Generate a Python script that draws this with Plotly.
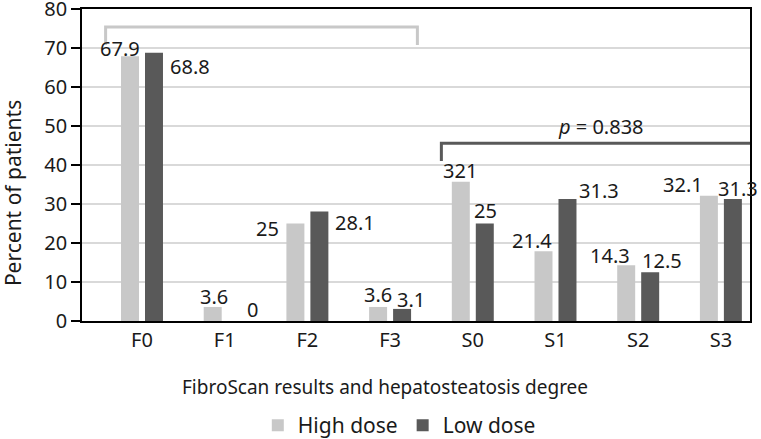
import plotly.graph_objects as go

categories = ["F0", "F1", "F2", "F3", "S0", "S1", "S2", "S3"]
high_dose = [67.9, 3.6, 25, 3.6, 35.7, 17.9, 14.3, 32.1]
low_dose = [68.8, 0, 28.1, 3.1, 25, 31.3, 12.5, 31.3]
high_labels = ["67.9", "3.6", "25", "3.6", "321", "21.4", "14.3", "32.1"]
low_labels = ["68.8", "0", "28.1", "3.1", "25", "31.3", "12.5", "31.3"]
p_text = "<i>p</i> = 0.838"

# label offsets (pixels) relative to group centre / bar top
high_dx = [-22, -11, -40, -12, -13, -23, -28, -38]
high_dy = [7.5, 10, -5, 12, 11, 11, 10, 11]
low_dx = [48, 28, 48, 21, 13, 44, 24, 17]
low_dy = [-14, 12, -11, 9, 13, 8, 12, 10]

LIGHT = "#c8c8c8"
DARK = "#595959"
FONT = "Noto Sans"
TXT = "#1a1a1a"

fig = go.Figure()
fig.add_trace(go.Bar(x=categories, y=high_dose, name="High dose",
                     marker=dict(color=LIGHT, line_width=0)))
fig.add_trace(go.Bar(x=categories, y=low_dose, name="Low dose",
                     marker=dict(color=DARK, line_width=0)))

ann = []
for i, c in enumerate(categories):
    ann.append(dict(x=c, y=high_dose[i], xref="x", yref="y", text=high_labels[i],
                    showarrow=False, xshift=high_dx[i], yshift=high_dy[i],
                    font=dict(size=20, color=TXT)))
    ann.append(dict(x=c, y=low_dose[i], xref="x", yref="y", text=low_labels[i],
                    showarrow=False, xshift=low_dx[i], yshift=low_dy[i],
                    font=dict(size=20, color=TXT)))

# p-value text
ann.append(dict(x=5.55, y=49.9, xref="x", yref="y", text=p_text, showarrow=False,
                font=dict(size=20, color=TXT)))
# axis titles
ann.append(dict(x=(385 - 82) / 668, y=-0.21, xref="paper", yref="paper",
                text="FibroScan results and hepatosteatosis degree", showarrow=False,
                font=dict(size=19, color=TXT), xanchor="center", yanchor="middle"))
ann.append(dict(x=-(82 - 13) / 668, y=0.41, xref="paper", yref="paper",
                text="Percent of patients", showarrow=False, textangle=-90,
                font=dict(size=21, color=TXT), xanchor="center", yanchor="middle"))

shapes = [
    dict(type="path", xref="x", yref="y",
         path="M -0.44,70.8 L -0.44,75.4 L 3.33,75.4 L 3.33,70.8",
         line=dict(color=LIGHT, width=3)),
    dict(type="path", xref="x", yref="y",
         path="M 3.62,41.0 L 3.62,45.6 L 7.5,45.6 L 7.5,41.0",
         line=dict(color=DARK, width=3)),
]

fig.update_layout(
    width=761, height=439,
    margin=dict(l=82, r=11, t=9, b=118, autoexpand=False),
    paper_bgcolor="white", plot_bgcolor="white",
    barmode="group", bargap=0.42, bargroupgap=0.25,
    font=dict(family=FONT, size=20, color=TXT),
    showlegend=True,
    legend=dict(orientation="h", x=0.475, xanchor="center", y=-0.335, yanchor="middle",
                font=dict(size=21, color=TXT), itemwidth=30, tracegroupgap=0),
    annotations=ann,
    shapes=shapes,
)
fig.update_xaxes(type="category", range=[-0.7255, 7.352], showline=True, linecolor="black",
                 linewidth=1.5, mirror=True, ticks="", showgrid=False, automargin=False,
                 tickfont=dict(size=20, color=TXT))
fig.update_yaxes(range=[0, 80], dtick=10, showline=True, linecolor="black", linewidth=1.5,
                 mirror=True, ticks="outside", ticklen=9, tickwidth=1.5, tickcolor="black",
                 showgrid=True, gridcolor="#d9d9d9", gridwidth=1.5, zeroline=False,
                 automargin=False, ticklabeloverflow="allow",
                 tickfont=dict(size=20, color=TXT))

fig.write_html("out.html", config={"displayModeBar": False},
               post_script="document.body.style.margin='0';document.body.style.overflow='hidden';")
